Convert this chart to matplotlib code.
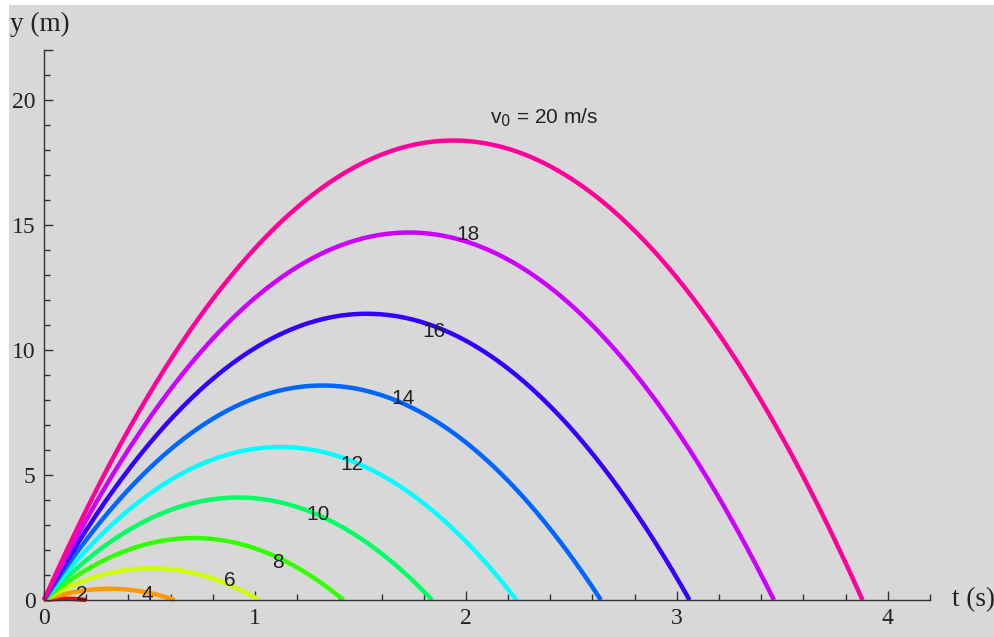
import numpy as np
import matplotlib
matplotlib.use('Agg')
import matplotlib.pyplot as plt
from matplotlib.patches import Rectangle
from matplotlib.ticker import FixedLocator, FixedFormatter

# launch speeds (m/s) and the apex of each trajectory
v0 = [2, 4, 6, 8, 10, 12, 14, 16, 18, 20]
t_peak = [0.10, 0.31, 0.51, 0.71, 0.92, 1.12, 1.32, 1.53, 1.73, 1.94]
y_peak = [0.05, 0.45, 1.27, 2.48, 4.10, 6.12, 8.58, 11.45, 14.70, 18.38]
colors = ['#ff0000', '#ff9900', '#ccff00', '#33ff00', '#00ff66',
          '#00ffff', '#0066ff', '#3300ff', '#cc00ff', '#ff0099']

# where the curve labels sit (t, y)
label_text = ['2', '4', '6', '8', '10', '12', '14', '16', '18', 'v$_0$ = 20 m/s']
label_t = [0.18, 0.49, 0.88, 1.11, 1.30, 1.46, 1.70, 1.85, 2.01, 2.37]
label_y = [0.20, 0.20, 0.77, 1.49, 3.44, 5.40, 8.08, 10.73, 14.64, 19.30]

bg = '#d8d8d8'
fig = plt.figure(figsize=(9.94, 6.37), dpi=100, facecolor='white')
fig.patches.append(Rectangle((9 / 994, 0), 1, 1 - 5 / 637, transform=fig.transFigure,
                             facecolor=bg, edgecolor='none', zorder=-10))

ax = fig.add_axes([44 / 994, 37 / 637, 886 / 994, 550 / 637])
ax.set_facecolor('none')

for i in range(len(v0)):
    tp = t_peak[i]
    t = np.linspace(0, 2 * tp, 300)
    y = y_peak[i] * (1 - (1 - t / tp) ** 2)
    ax.plot(t, y, color=colors[i], lw=3.2, solid_capstyle='butt', clip_on=False)

for i in range(len(label_text)):
    ax.text(label_t[i], label_y[i], label_text[i], ha='center', va='center',
            fontsize=15, family='Liberation Sans', color='#222222')

ax.set_xlim(0, 4.2)
ax.set_ylim(0, 22)
for s in ['top', 'right']:
    ax.spines[s].set_visible(False)
for s in ['left', 'bottom']:
    ax.spines[s].set_color('#333333')
    ax.spines[s].set_linewidth(1.0)

ax.xaxis.set_major_locator(FixedLocator([0, 1, 2, 3, 4]))
ax.xaxis.set_major_formatter(FixedFormatter(['0', '1', '2', '3', '4']))
ax.xaxis.set_minor_locator(FixedLocator([x / 5 for x in range(1, 22) if x % 5 != 0]))
ax.yaxis.set_major_locator(FixedLocator([0, 5, 10, 15, 20, 22]))
ax.yaxis.set_major_formatter(FixedFormatter(['0', '5', '10', '15', '20', '']))
ax.yaxis.set_minor_locator(FixedLocator([y for y in range(1, 22) if y % 5 != 0]))

ax.tick_params(which='major', direction='in', length=6.5, width=1, color='#333333',
               labelsize=17, labelcolor='#222222', pad=6)
ax.tick_params(which='minor', direction='in', length=4, width=1, color='#333333')
for lab in ax.get_xticklabels() + ax.get_yticklabels():
    lab.set_family('Liberation Serif')

fig.text(10 / 994, 1 - 24 / 637, 'y (m)', ha='left', va='center', fontsize=19.5,
         family='Liberation Serif', color='#222222')
fig.text(952 / 994, 37 / 637, 't (s)', ha='left', va='center', fontsize=19.5,
         family='Liberation Serif', color='#222222')

fig.savefig('out.png', dpi=100, facecolor='white')
